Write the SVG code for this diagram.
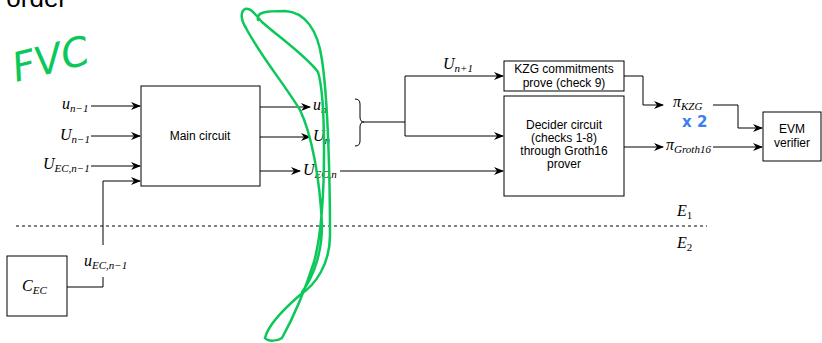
<svg xmlns="http://www.w3.org/2000/svg" width="822" height="343" viewBox="0 0 822 343">
<style>
.box{fill:#fff;stroke:#000;stroke-width:1}
.ln{fill:none;stroke:#000;stroke-width:1}
.arr{fill:none;stroke:#000;stroke-width:1;marker-end:url(#ah)}
.t{font-family:"Liberation Sans",Arial,sans-serif;font-size:12px;fill:#000;text-anchor:middle}
.m{font-family:"Liberation Serif","Times New Roman",serif;font-style:italic;font-size:16px;fill:#000}
.s{font-size:11px}
.u{font-style:normal}
</style>
<defs>
<marker id="ah" markerWidth="10" markerHeight="10" refX="9" refY="5" orient="auto" markerUnits="userSpaceOnUse">
<path d="M0,1 L10,5 L0,9 L3,5 z" fill="#000"/>
</marker>
</defs>
<text x="67" y="7" font-family="Liberation Sans,Arial,sans-serif" font-size="26" text-anchor="end" fill="#000">order</text>
<g id="main"><rect class="box" x="141" y="86" width="119" height="100"/><text class="t" x="200" y="140">Main circuit</text></g>
<g id="kzg"><rect class="box" x="504" y="61" width="120" height="30"/><text class="t" x="564" y="73">KZG commitments</text><text class="t" x="564" y="87">prove (check 9)</text></g>
<g id="decider"><rect class="box" x="504" y="96" width="120" height="100"/><text class="t" x="564" y="129">Decider circuit</text><text class="t" x="564" y="142">(checks 1-8)</text><text class="t" x="564" y="155">through Groth16</text><text class="t" x="564" y="168">prover</text></g>
<g id="evm"><rect class="box" x="763" y="112" width="58" height="49"/><text class="t" x="792" y="133">EVM</text><text class="t" x="792" y="147">verifier</text></g>
<g id="cec"><rect class="box" x="7" y="256" width="60" height="60"/><text class="m" x="22" y="291">C<tspan class="s" dy="3">EC</tspan></text></g>
<g id="connectors">
<path class="arr" d="M91 106 H140"/>
<path class="arr" d="M91 136 H140"/>
<path class="arr" d="M91 166 H140"/>
<path class="arr" d="M103 245 V181 H140"/>
<path class="ln" d="M67 287 H103 V277"/>
<path class="arr" d="M260 107 H310"/>
<path class="arr" d="M260 137 H310"/>
<path class="arr" d="M260 171 H300"/>
<path class="ln" d="M355 99 Q360 99 360 104 V117 Q360 122 364 122 Q360 122 360 127 V141 Q360 146 355 146"/>
<path class="ln" d="M364 122 H405"/>
<path class="arr" d="M405 122 V76 H503"/>
<path class="arr" d="M405 122 V136 H503"/>
<path class="arr" d="M340 171 H503"/>
<path class="arr" d="M624 76 H643 V105 H663"/>
<path class="arr" d="M713 105 H738 V128 H762"/>
<path class="arr" d="M624 147 H663"/>
<path class="arr" d="M713 147 H762"/>
<path d="M16 226 H707" fill="none" stroke="#000" stroke-width="1" stroke-dasharray="3 3"/>
</g>
<g id="labels">
<text class="m" x="62" y="109">u<tspan class="s" dy="3">n−1</tspan></text>
<text class="m" x="60" y="140">U<tspan class="s" dy="3">n−1</tspan></text>
<text class="m" x="43" y="169">U<tspan class="s" dy="3">EC,n−1</tspan></text>
<text class="m" x="313" y="110">u<tspan class="s" dy="3">n</tspan></text>
<text class="m" x="313" y="141">U<tspan class="s" dy="3">n</tspan></text>
<text class="m" x="303" y="175">U<tspan class="s" dy="3">EC,n</tspan></text>
<text class="m" x="443" y="69">U<tspan class="s" dy="3">n+1</tspan></text>
<text class="m" x="673" y="107">π<tspan class="s" dy="3">KZG</tspan></text>
<text class="m" x="666" y="150">π<tspan class="s" dy="3">Groth16</tspan></text>
<text class="m" x="84" y="266">u<tspan class="s" dy="3">EC,n−1</tspan></text>
<text class="m" x="677" y="216">E<tspan class="s u" dy="3">1</tspan></text>
<text class="m" x="677" y="248">E<tspan class="s u" dy="3">2</tspan></text>
</g>
<g id="annotations">
<path d="M258 20 C256 12,266 11,285 11 C305 12,318 30,322 60 C328 100,330 180,330 235 C330 265,315 285,300 295 C285 308,268 325,265 338 C268 342,278 341,282 338 C292 320,305 290,314 262 C320 240,324 200,324 150 C324 110,322 85,318 72 C305 55,280 38,262 22 C255 14,250 7,245 9 C240 12,241 20,246 28 C260 55,285 85,300 110 C312 135,320 180,322 225 C322 250,315 275,302 292" fill="none" stroke="#0cc85a" stroke-width="2.5" stroke-linecap="round"/>
<text x="16" y="82" transform="rotate(-14 16 82)" font-family="DejaVu Sans,sans-serif" font-size="40" fill="#0cc85a" font-style="italic">FVC</text>
<text x="682" y="127" font-family="DejaVu Sans,sans-serif" font-size="15" font-weight="bold" fill="#3b7ff0">x 2</text>
</g>
</svg>
